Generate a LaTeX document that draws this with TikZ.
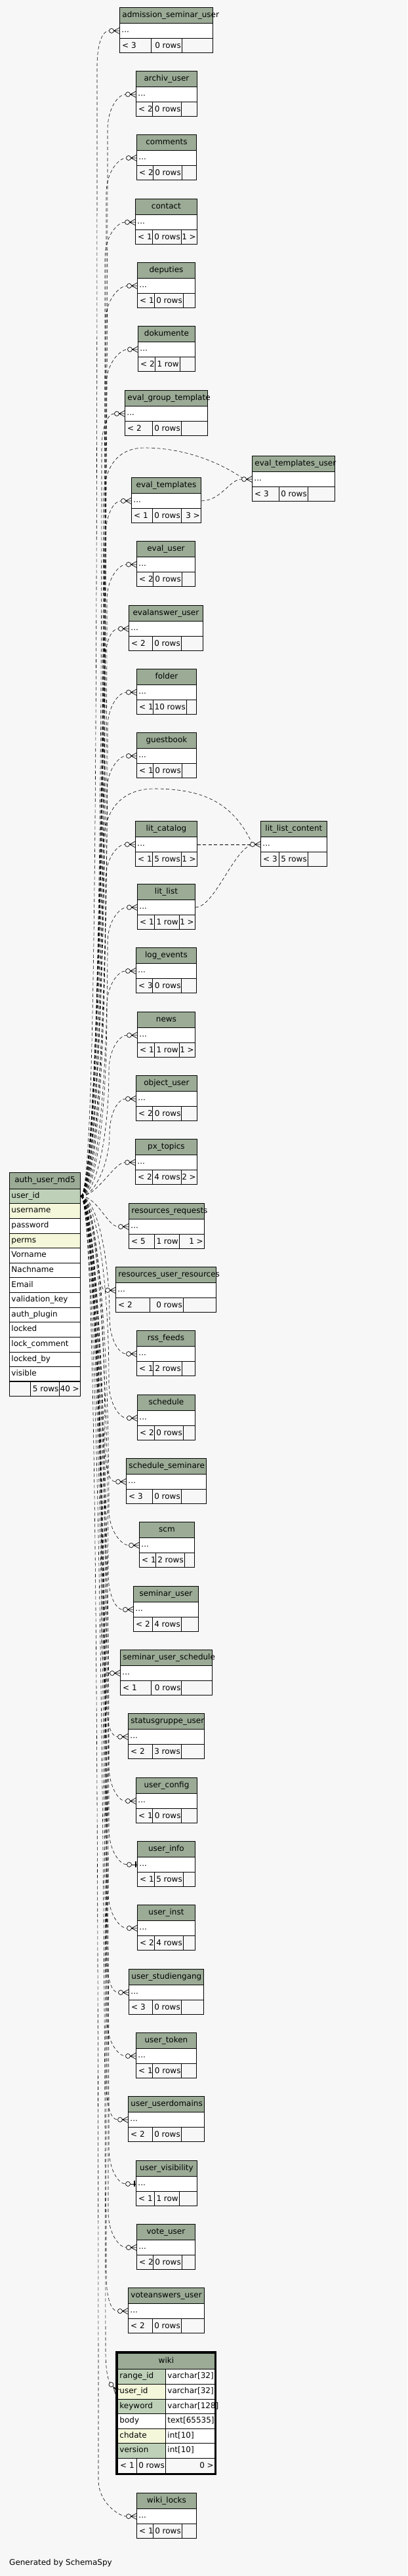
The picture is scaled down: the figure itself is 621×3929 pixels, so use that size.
\documentclass[tikz,border=0pt]{standalone}
\usepackage{fontspec}
\setmainfont{DejaVu Sans}
\pgfdeclarelayer{background}
\pgfsetlayers{background,main}
\definecolor{bgc}{HTML}{F7F7F7}
\definecolor{hdrc}{HTML}{9BAB96}
\definecolor{pkc}{HTML}{BED1B8}
\definecolor{idxc}{HTML}{F4F7DA}
\newcommand\tf{\fontsize{12}{14}\selectfont}
\newif\ifonetoone
\gdef\FR{}
\tikzset{
  tline/.style={draw=black, line width=0.9pt},
  hdrbox/.style={draw=black, line width=0.9pt, fill=hdrc, inner xsep=4pt, inner ysep=0pt, minimum height=24pt, align=center, font=\tf},
  rowbox/.style={draw=black, line width=0.9pt, fill=white, inner xsep=3pt, inner ysep=0pt, minimum height=23pt, align=left, font=\tf},
  ftxt/.style={inner sep=0pt, font=\tf},
  relline/.style={line width=0.6pt, dash pattern=on 5pt off 3.5pt},
  zcirc/.style={circle, draw=black, line width=0.7pt, fill=bgc, inner sep=0pt, minimum size=7pt},
}
% small table: name, x1, ytop, x2, title, c1, c2, left footer, mid footer
\newcommand\stab[9]{%
  \pgfmathsetmacro\tw{#4-#2-8}%
  \pgfmathsetmacro\yb{#3+24}%
  \pgfmathsetmacro\yc{#3+47}%
  \pgfmathsetmacro\yd{#3+69}%
  \node[hdrbox, text width=\tw pt, anchor=north west] (#1-h) at (#2,#3) {\strut #5};
  \pgfmathsetmacro\tw{#4-#2-6}%
  \node[rowbox, text width=\tw pt, anchor=north west] (#1-d) at (#2,\yb) {\strut...};
  \draw[tline] (#2,\yc) rectangle (#4,\yd);
  \draw[tline] (#6,\yc) -- (#6,\yd) (#7,\yc) -- (#7,\yd);
  \node[ftxt, anchor=base west] (#1-fl) at ({#2+4},{\yc+15.5}) {#8};
  \node[ftxt, anchor=base east] (#1-fm) at ({#7-1},{\yc+15.5}) {#9};
  \node[ftxt, anchor=base east] (#1-fr) at ({#4-1},{\yc+15.5}) {\FR};
  \gdef\FR{}%
  \node[zcirc] (#1-o) at ([xshift=-12pt]#1-d.west) {};
  \ifonetoone
    \draw[tline, line width=0.7pt] (#1-o.east) -- (#1-d.west);
    \draw[line width=1.6pt] ([xshift=-2pt,yshift=4.5pt]#1-d.west) -- ([xshift=-2pt,yshift=-4.5pt]#1-d.west);
  \else
    \draw[tline, line width=0.7pt] (#1-o.east) -- (#1-d.west)
      ([xshift=-8.5pt]#1-d.west) -- ([yshift=4.5pt]#1-d.west)
      ([xshift=-8.5pt]#1-d.west) -- ([yshift=-4.5pt]#1-d.west);
  \fi
  \global\onetoonefalse
}
% connector from auth_user_md5.user_id: target name, bundle x, target top y
\newcommand\conn[3]{%
  \pgfmathsetmacro\cs{ifthenelse(#3+35.5>1824,1,-1)}%
  \pgfmathsetmacro\cya{1824+\cs*0.35*abs(#3+35.5-1824)}%
  \pgfmathsetmacro\cyb{#3+35.5-\cs*55}%
  \pgfmathsetmacro\cyc{#3+35.5-\cs*20}%
  \draw[relline] (auth-r0.east) .. controls +(22,0) and (#2,\cya) .. (#2,\cyb)
    .. controls (#2,\cyc) and ([xshift=-10pt]#1-o.west) .. (#1-o);
}
\newcommand\connS[1]{%
  \draw[relline] (auth-r0.east) .. controls +(25,0) and ([xshift=-16pt]#1-o.west) .. (#1-o);
}
\begin{document}
\begin{tikzpicture}[x=1pt,y=-1pt]
\useasboundingbox (0,0) rectangle (621,3929);

% ---------- auth_user_md5 ----------
\node[hdrbox, text width=100pt, minimum height=24.7pt, anchor=north west] (auth) at (14,1788) {\strut auth\_user\_md5};
\foreach \nm/\cl [count=\i from 0] in {user\_id/pkc,username/idxc,password/white,perms/idxc,Vorname/white,Nachname/white,Email/white,validation\_key/white,auth\_plugin/white,locked/white,lock\_comment/white,locked\_by/white,visible/white}{
  \node[rowbox, fill=\cl, text width=102pt, minimum height=22.62pt, anchor=north west] (auth-r\i) at (14,{1812.7+22.62*\i}) {\strut\nm};
}
\draw[tline] (14,2106.8) rectangle (122,2129.4);
\draw[tline] (46.7,2106.8) -- (46.7,2129.4) (90.7,2106.8) -- (90.7,2129.4);
\node[ftxt, anchor=base east] (auth-fm) at (89.7,2122.3) {5 rows};
\node[ftxt, anchor=base east] (auth-fr) at (121,2122.3) {40 >};

% ---------- child tables ----------
\stab{asu}{182}{11}{324}{admission\_seminar\_user}{230}{277}{< 3}{0 rows}
\stab{archiv}{207}{108}{300}{archiv\_user}{232.7}{276.7}{< 2}{0 rows}
\stab{comments}{208}{205}{299}{comments}{233.7}{277}{< 2}{0 rows}
\def\FR{1 >}\stab{contact}{206}{303}{300}{contact}{232}{276}{< 1}{0 rows}
\stab{deputies}{209}{400}{297}{deputies}{235}{279}{< 1}{0 rows}
\stab{dokumente}{210}{497}{297}{dokumente}{236}{274}{< 2}{1 row}
\stab{egt}{190}{595}{316}{eval\_group\_template}{232}{276}{< 2}{0 rows}
\stab{etu}{384}{695}{510}{eval\_templates\_user}{425}{469}{< 3}{0 rows}
\def\FR{3 >}\stab{et}{200}{728}{306}{eval\_templates}{232}{276}{< 1}{0 rows}
\stab{eu}{208}{825}{297}{eval\_user}{233.7}{277}{< 2}{0 rows}
\stab{eau}{196}{923}{309}{evalanswer\_user}{232}{276}{< 2}{0 rows}
\stab{folder}{208}{1020}{299}{folder}{233.7}{284}{< 1}{10 rows}
\stab{guestbook}{208}{1117}{299}{guestbook}{233.7}{277}{< 1}{0 rows}
\def\FR{1 >}\stab{litcat}{206}{1252}{300}{lit\_catalog}{232}{276}{< 1}{5 rows}
\stab{llc}{397}{1252}{498}{lit\_list\_content}{425}{469}{< 3}{5 rows}
\def\FR{1 >}\stab{litlist}{209}{1348}{297}{lit\_list}{235}{273}{< 1}{1 row}
\stab{log}{207}{1445}{299}{log\_events}{232.7}{276.7}{< 3}{0 rows}
\def\FR{1 >}\stab{news}{209}{1543}{297}{news}{235}{273}{< 1}{1 row}
\stab{obj}{207}{1640}{300}{object\_user}{232.7}{276.7}{< 2}{0 rows}
\def\FR{2 >}\stab{px}{206}{1737}{300}{px\_topics}{232}{276}{< 2}{4 rows}
\def\FR{1 >}\stab{rr}{196}{1835}{311}{resources\_requests}{235}{273}{< 5}{1 row}
\stab{rur}{176}{1932}{329}{resources\_user\_resources}{228.7}{279}{< 2}{0 rows}
\stab{rss}{208}{2029}{297}{rss\_feeds}{233.7}{277}{< 1}{2 rows}
\stab{sched}{209}{2127}{297}{schedule}{235}{279}{< 2}{0 rows}
\stab{ss}{192}{2224}{314}{schedule\_seminare}{232}{276}{< 3}{0 rows}
\stab{scm}{212}{2321}{296}{scm}{237}{281}{< 1}{2 rows}
\stab{su}{203}{2419}{302}{seminar\_user}{232}{276}{< 2}{4 rows}
\stab{sus}{183}{2516}{323}{seminar\_user\_schedule}{230}{276.7}{< 1}{0 rows}
\stab{sgu}{195}{2613}{311}{statusgruppe\_user}{232}{276}{< 2}{3 rows}
\stab{uc}{207}{2711}{300}{user\_config}{232.7}{276.7}{< 1}{0 rows}
\onetoonetrue\stab{ui}{209}{2808}{297}{user\_info}{235}{279}{< 1}{5 rows}
\stab{uinst}{209}{2905}{297}{user\_inst}{235}{279}{< 2}{4 rows}
\stab{ust}{196}{3003}{310}{user\_studiengang}{232}{276}{< 3}{0 rows}
\stab{ut}{207}{3100}{299}{user\_token}{232.7}{276.7}{< 1}{0 rows}
\stab{uud}{195}{3197}{311}{user\_userdomains}{232}{276}{< 2}{0 rows}
\onetoonetrue\stab{uv}{207}{3295}{300}{user\_visibility}{235}{273}{< 1}{1 row}
\stab{vu}{208}{3392}{297}{vote\_user}{233.7}{277}{< 2}{0 rows}
\stab{vau}{195}{3489}{311}{voteanswers\_user}{232}{276}{< 2}{0 rows}
\stab{wl}{208}{3802}{299}{wiki\_locks}{233.7}{277}{< 1}{0 rows}

% ---------- wiki ----------
\node[hdrbox, text width=140pt, minimum height=24.3pt, anchor=north west] (wiki) at (179,3589) {\strut wiki};
\foreach \nm/\cl/\ty [count=\i from 0] in {range\_id/pkc/varchar[32],user\_id/idxc/varchar[32],keyword/pkc/varchar[128],body/white/text[65535],chdate/idxc/int[10],version/pkc/int[10]}{
  \node[rowbox, fill=\cl, text width=67pt, minimum height=22.6pt, anchor=north west] (wiki-n\i) at (179,{3613.3+22.6*\i}) {\strut\nm};
  \node[rowbox, text width=69pt, minimum height=22.6pt, anchor=north west] (wiki-t\i) at (252,{3613.3+22.6*\i}) {\strut\ty};
}
\draw[tline] (179,3749) rectangle (327,3772);
\draw[tline] (208,3749) -- (208,3772) (252,3749) -- (252,3772);
\node[ftxt, anchor=base west] (wiki-fl) at (183,3764.5) {< 1};
\node[ftxt, anchor=base east] (wiki-fm) at (251,3764.5) {0 rows};
\node[ftxt, anchor=base east] (wiki-fr) at (326,3764.5) {0 >};
\draw[line width=3pt] (177.5,3587.5) rectangle (328,3773.5);
\node[zcirc] (wiki-o) at (169.5,3637) {};
\draw[tline, line width=0.7pt] (wiki-o) -- (wiki-n1.west)
  ([shift={(-6,-6.6)}]wiki-n1.west) -- ([shift={(-3.4,3)}]wiki-n1.west)
  ([shift={(-6,-6.6)}]wiki-n1.west) -- ([shift={(3.4,-3)}]wiki-n1.west);

\node[ftxt, anchor=base west] (gen) at (14,3912) {Generated by SchemaSpy};

% ---------- connectors ----------
\begin{pgfonlayer}{background}
\fill[bgc] (0,0) rectangle (621,3929);
\conn{asu}{148}{11}
\conn{archiv}{164}{108}
\conn{comments}{162}{205}
\conn{contact}{160}{303}
\conn{deputies}{161}{400}
\conn{dokumente}{162}{497}
\conn{egt}{155}{595}
\conn{et}{161}{728}
\conn{eu}{163}{825}
\conn{eau}{160}{923}
\conn{folder}{164}{1020}
\conn{guestbook}{163}{1117}
\conn{litcat}{161}{1252}
\conn{litlist}{164}{1348}
\conn{log}{163}{1445}
\conn{news}{166}{1543}
\conn{obj}{167}{1640}
\connS{px}
\connS{rr}
\connS{rur}
\conn{rss}{167}{2029}
\conn{sched}{166}{2127}
\conn{ss}{160}{2224}
\conn{scm}{166}{2321}
\conn{su}{165}{2419}
\conn{sus}{155}{2516}
\conn{sgu}{162}{2613}
\conn{uc}{166}{2711}
\conn{ui}{166}{2808}
\conn{uinst}{165}{2905}
\conn{ust}{163}{3003}
\conn{ut}{163}{3100}
\conn{uud}{162}{3197}
\conn{uv}{166}{3295}
\conn{vu}{165}{3392}
\conn{vau}{162}{3489}
\conn{wl}{150}{3802}
\draw[relline] (auth-r0.east) .. controls +(22,0) and (160,2600) .. (161,3590)
  .. controls (161.5,3615) and (164,3628) .. (wiki-o);
\draw[relline] (auth-r0.east) .. controls +(22,0) and (157,1300) .. (158,760)
  .. controls (159,700) and (190,683) .. (220,683)
  .. controls (290,683) and (345,712) .. (etu-o);
\draw[relline] (auth-r0.east) .. controls +(22,0) and (157,1500) .. (158,1285)
  .. controls (160,1225) and (195,1203) .. (235,1203)
  .. controls (310,1203) and (355,1225) .. (llc-o);
\draw[relline] (et-d.east) .. controls +(30,0) and ([xshift=-18pt]etu-o.west) .. (etu-o);
\draw[relline] (litcat-d.east) -- (llc-o);
\draw[relline] (litlist-d.east) .. controls +(28,0) and (355,1300) .. (llc-o);
\end{pgfonlayer}
\end{tikzpicture}
\end{document}
